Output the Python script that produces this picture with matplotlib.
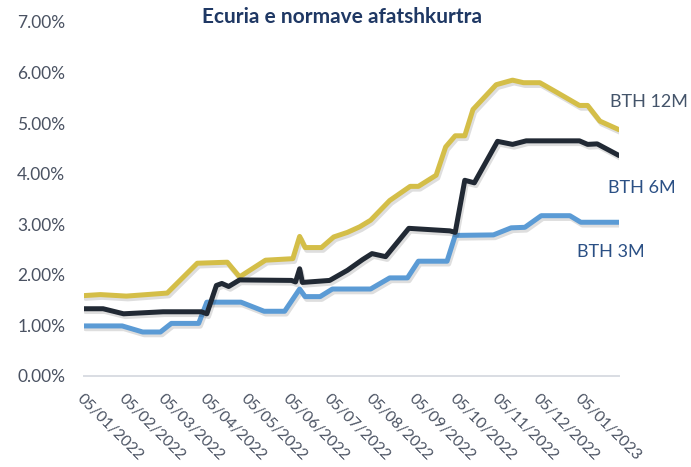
import matplotlib
matplotlib.use("Agg")
import matplotlib.pyplot as plt
import matplotlib.dates as mdates
import matplotlib.patheffects as pe
import pandas as pd
from matplotlib.ticker import FuncFormatter, MultipleLocator

# BTH 12M
dates_12m = ["2022-01-05", "2022-01-17", "2022-02-05", "2022-03-07", "2022-03-29",
             "2022-04-20", "2022-04-29", "2022-05-18", "2022-06-07", "2022-06-12",
             "2022-06-16", "2022-06-28", "2022-07-07", "2022-07-17", "2022-07-26",
             "2022-08-03", "2022-08-17", "2022-09-01", "2022-09-07", "2022-09-20",
             "2022-09-27", "2022-10-04", "2022-10-11", "2022-10-17", "2022-11-03",
             "2022-11-15", "2022-11-23", "2022-12-05", "2022-12-18", "2023-01-03",
             "2023-01-09", "2023-01-18", "2023-02-01"]
bth_12m = [1.59, 1.61, 1.58, 1.64, 2.23,
           2.25, 1.96, 2.29, 2.32, 2.76,
           2.54, 2.54, 2.75, 2.84, 2.95,
           3.08, 3.47, 3.75, 3.75, 3.97,
           4.53, 4.75, 4.75, 5.27, 5.76,
           5.85, 5.80, 5.80, 5.60, 5.35,
           5.35, 5.04, 4.87]

# BTH 6M
dates_6m = ["2022-01-05", "2022-01-19", "2022-02-03", "2022-03-04", "2022-04-01",
            "2022-04-05", "2022-04-12", "2022-04-16", "2022-04-21", "2022-04-29",
            "2022-06-06", "2022-06-09", "2022-06-12", "2022-06-14", "2022-07-04",
            "2022-07-17", "2022-07-28", "2022-08-04", "2022-08-14", "2022-08-31",
            "2022-09-30", "2022-10-04", "2022-10-11", "2022-10-18", "2022-11-04",
            "2022-11-15", "2022-11-25", "2023-01-03", "2023-01-09", "2023-01-16",
            "2023-02-01"]
bth_6m = [1.33, 1.33, 1.23, 1.27, 1.27,
          1.23, 1.79, 1.83, 1.77, 1.90,
          1.89, 1.86, 2.12, 1.85, 1.89,
          2.09, 2.30, 2.42, 2.36, 2.92,
          2.87, 2.84, 3.87, 3.82, 4.64,
          4.58, 4.65, 4.65, 4.58, 4.59,
          4.36]

# BTH 3M
dates_3m = ["2022-01-05", "2022-02-02", "2022-02-17", "2022-03-02", "2022-03-10",
            "2022-03-30", "2022-04-05", "2022-04-30", "2022-05-17", "2022-06-01",
            "2022-06-12", "2022-06-16", "2022-06-27", "2022-07-06", "2022-08-03",
            "2022-08-17", "2022-08-30", "2022-09-07", "2022-09-28", "2022-10-04",
            "2022-11-01", "2022-11-14", "2022-11-24", "2022-12-06", "2022-12-27",
            "2023-01-04", "2023-02-01"]
bth_3m = [0.99, 0.99, 0.87, 0.87, 1.04,
          1.04, 1.46, 1.46, 1.28, 1.28,
          1.72, 1.57, 1.57, 1.72, 1.72,
          1.94, 1.94, 2.27, 2.27, 2.78,
          2.79, 2.93, 2.94, 3.17, 3.17,
          3.04, 3.04]

tick_dates = pd.date_range("2022-01-05", periods=13, freq=pd.DateOffset(months=1))

txt = "#4a5262"
plt.rcParams["font.family"] = ["Lato", "DejaVu Sans"]

fig = plt.figure(figsize=(6.91, 4.67), dpi=100)
ax = fig.add_axes([84 / 691, 1 - 376 / 467, (619 - 84) / 691, (376 - 22) / 467])

shadow = [pe.SimpleLineShadow(offset=(1.2, -2.0), shadow_color="black", alpha=0.13), pe.Normal()]
ax.plot(pd.to_datetime(dates_12m), bth_12m, color="#D4BE48", lw=3.6, path_effects=shadow,
        solid_joinstyle="round", solid_capstyle="round")
ax.plot(pd.to_datetime(dates_3m), bth_3m, color="#5B9BD5", lw=3.6, path_effects=shadow,
        solid_joinstyle="round", solid_capstyle="round")
ax.plot(pd.to_datetime(dates_6m), bth_6m, color="#212934", lw=3.6, path_effects=shadow,
        solid_joinstyle="round", solid_capstyle="round")

ax.set_ylim(0, 7)
ax.set_xlim(pd.Timestamp("2022-01-05"), pd.Timestamp("2023-02-01"))
ax.yaxis.set_major_locator(MultipleLocator(1))
ax.yaxis.set_major_formatter(FuncFormatter(lambda v, p: f"{v:.2f}%"))
ax.set_xticks(tick_dates)
ax.xaxis.set_major_formatter(mdates.DateFormatter("%d/%m/%Y"))

for s in ["top", "right", "left"]:
    ax.spines[s].set_visible(False)
ax.spines["bottom"].set_color("#d9dde3")
ax.spines["bottom"].set_linewidth(1.4)
ax.spines["bottom"].set_zorder(0)

ax.tick_params(axis="y", length=0, pad=13.5, labelsize=12.5, labelcolor=txt)
ax.tick_params(axis="x", length=0, pad=11, labelsize=11.3, labelcolor=txt)
for lab in ax.get_xticklabels():
    lab.set_rotation(-45)
    lab.set_ha("left")
    lab.set_va("top")
    lab.set_rotation_mode("anchor")

fig.text(0.495, 1 - 17 / 467, "Ecuria e normave afatshkurtra", ha="center", va="center",
         fontsize=15, fontweight="bold", color="#1F3864")

fig.text(610 / 691, 1 - 102 / 467, "BTH 12M", ha="left", va="center", fontsize=13, color="#44546A")
fig.text(608 / 691, 1 - 188 / 467, "BTH 6M", ha="left", va="center", fontsize=13, color="#2B5085")
fig.text(577 / 691, 1 - 252 / 467, "BTH 3M", ha="left", va="center", fontsize=13, color="#2B5085")

plt.savefig("out.png", dpi=100)
